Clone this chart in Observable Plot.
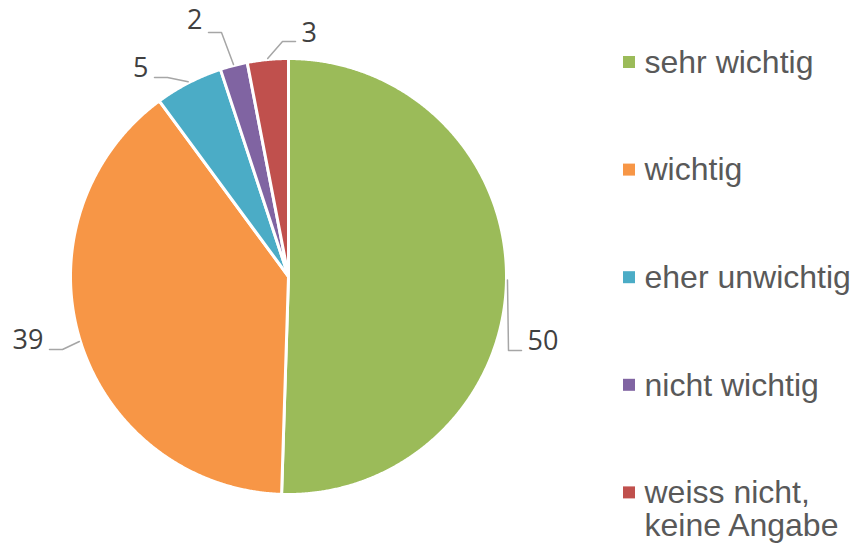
<!DOCTYPE html>
<html><head><meta charset="utf-8">
<script src="https://cdn.jsdelivr.net/npm/d3@7"></script>
<script src="https://cdn.jsdelivr.net/npm/@observablehq/plot@0.6"></script>
<style>body{margin:0;background:#fff}#chart svg{display:block}</style>
</head><body><div id="chart"></div>
<script>
const categories = ["sehr wichtig", "wichtig", "eher unwichtig", "nicht wichtig", "weiss nicht, keine Angabe"];
const values = [50, 39, 5, 2, 3];
const colors = ["#9BBB59", "#F79646", "#4BACC6", "#8064A2", "#C0504D"];
const legendLines = [["sehr wichtig"], ["wichtig"], ["eher unwichtig"], ["nicht wichtig"], ["weiss nicht,", "keine Angabe"]];

// layout (not data)
const W = 851, H = 549, cx = 288, cy = 276, R = 218;
const labelLayout = [
  {x: 527, y: 341, anchor: "start", lineY: 350},
  {x: 43,  y: 340, anchor: "end",   lineY: 349},
  {x: 148, y: 68,  anchor: "end",   lineY: 77},
  {x: 202, y: 20,  anchor: "end",   lineY: 32},
  {x: 301, y: 33,  anchor: "start", lineY: 41}
];

const arcs = d3.pie().sort(null).value(d => d.value)(categories.map((c, i) => ({key: c, value: values[i]})));
const pt = (a, r) => [cx + r * Math.sin(a), cy - r * Math.cos(a)];

const slicePts = [];
arcs.forEach(p => {
  const key = p.data.key;
  slicePts.push({key, x: cx, y: cy});
  const n = Math.max(2, Math.ceil((p.endAngle - p.startAngle) / 0.005));
  for (let k = 0; k <= n; k++) {
    const a = p.startAngle + (p.endAngle - p.startAngle) * k / n;
    const [x, y] = pt(a, R);
    slicePts.push({key, x, y});
  }
  slicePts.push({key, x: cx, y: cy});
});

const leaders = [], labels = [];
arcs.forEach((p, i) => {
  const L = labelLayout[i];
  const mid = (p.startAngle + p.endAngle) / 2;
  const [ax, ay] = pt(mid, R + 1);
  const dir = L.anchor === "start" ? -1 : 1;
  const endX = L.x + dir * 6, elbowX = endX + dir * 13;
  leaders.push({i, x: endX, y: L.lineY}, {i, x: elbowX, y: L.lineY}, {i, x: ax, y: ay});
  labels.push({text: String(values[i]), x: L.x, y: L.y, anchor: L.anchor});
});

const legendRows = [], legendText = [];
categories.forEach((c, i) => {
  const yc = 62 + i * 107.6;
  legendRows.push({key: c, x1: 623, x2: 635, y1: yc - 6, y2: yc + 6});
  legendLines[i].forEach((t, j) => legendText.push({text: t, x: 644, y: yc + j * 33}));
});

const chart = Plot.plot({
  width: W, height: H,
  margin: 0,
  x: {domain: [0, W], range: [0, W], axis: null},
  y: {domain: [0, H], range: [0, H], axis: null},
  color: {domain: categories, range: colors},
  marks: [
    Plot.line(slicePts, {x: "x", y: "y", z: "key", fill: "key", stroke: "white", strokeWidth: 3, strokeLinejoin: "round", curve: "linear"}),
    Plot.line(leaders, {x: "x", y: "y", z: "i", stroke: "#A6A6A6", strokeWidth: 1.5}),
    Plot.text(labels.filter(d => d.anchor === "start"), {x: "x", y: "y", text: "text", textAnchor: "start", lineAnchor: "middle", fontSize: 27, fontFamily: "Open Sans", fill: "#404040"}),
    Plot.text(labels.filter(d => d.anchor === "end"), {x: "x", y: "y", text: "text", textAnchor: "end", lineAnchor: "middle", fontSize: 27, fontFamily: "Open Sans", fill: "#404040"}),
    Plot.rect(legendRows, {x1: "x1", x2: "x2", y1: "y1", y2: "y2", fill: "key"}),
    Plot.text(legendText, {x: "x", y: "y", text: "text", textAnchor: "start", lineAnchor: "middle", fontSize: 32, fontFamily: "Liberation Sans", fill: "#595959"})
  ]
});
document.getElementById("chart").append(chart);
</script>
</body></html>
